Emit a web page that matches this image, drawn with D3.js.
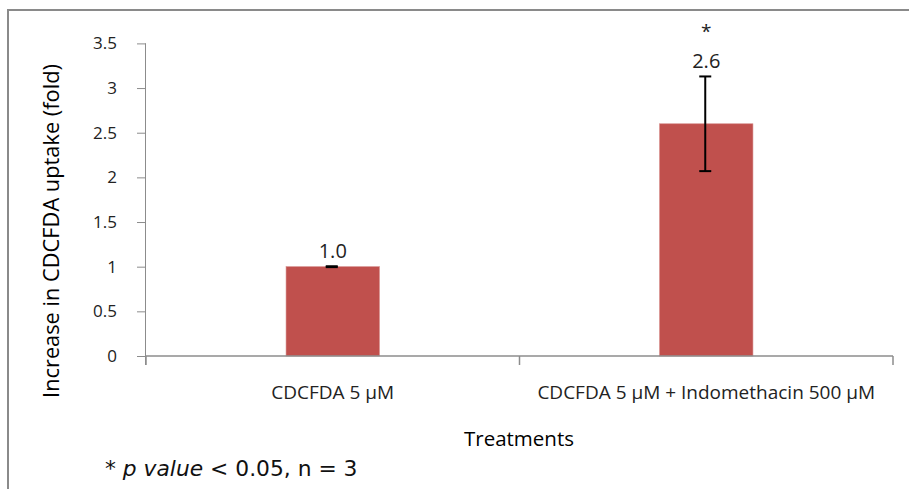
<!DOCTYPE html>
<html><head><meta charset="utf-8">
<script src="https://cdn.jsdelivr.net/npm/d3@7"></script>
<style>body{margin:0;background:#fff}svg{display:block}</style>
</head><body>
<script>
const categories = ["CDCFDA 5 μM", "CDCFDA 5 μM + Indomethacin 500 μM"];
const values = [1.0, 2.6];
const errors = [0.005, 0.53];
const valueLabels = ["1.0", "2.6"];
const signif = ["", "*"];
const yTicks = [0, 0.5, 1, 1.5, 2, 2.5, 3, 3.5];

const W = 909, H = 489;
const svg = d3.select("body").append("svg").attr("width", W).attr("height", H);
const font = "'Open Sans', 'Noto Sans', sans-serif";

// frame
svg.append("path").attr("d", `M8,489 L8,10 L909,10`).attr("fill", "none").attr("stroke", "#8a8a8a").attr("stroke-width", 2);

const x0 = 146, x1 = 893, y0 = 356, yTop = 43.4;
const x = d3.scaleBand().domain(categories).range([x0, x1]).paddingInner(0.75).paddingOuter(0.375);
const y = d3.scaleLinear().domain([0, 3.5]).range([y0, yTop]);
const axisColor = "#8c8c8c";

// y axis
const ya = svg.append("g").attr("transform", `translate(${x0},0)`)
  .call(d3.axisLeft(y).tickValues(yTicks).tickSize(9).tickPadding(20).tickFormat(d => String(d)));
ya.select(".domain").attr("stroke", axisColor).attr("d", `M-0.5,${y0+9}V${yTop}`);
ya.selectAll(".tick line").attr("stroke", axisColor);
ya.selectAll("text").attr("font-family", font).attr("font-size", 17).attr("fill", "#222");

// bars
svg.selectAll("rect.bar").data(values).enter().append("rect")
  .attr("x", (d, i) => x(categories[i])).attr("width", x.bandwidth())
  .attr("y", d => y(d)).attr("height", d => y0 - y(d))
  .attr("fill", "#C0504D").attr("stroke", "#d58987").attr("stroke-width", 0.6);

// x axis
const xa = svg.append("g").attr("transform", `translate(0,${y0})`);
xa.append("line").attr("x1", x0).attr("x2", x1).attr("y1", 0).attr("y2", 0).attr("stroke", axisColor).attr("stroke-width", 1.5);
const step = (x1 - x0) / categories.length;
[0, 1, 2].forEach(k => xa.append("line").attr("x1", x0 + k*step).attr("x2", x0 + k*step).attr("y1", 0).attr("y2", 9).attr("stroke", axisColor).attr("stroke-width", 1.5));
categories.forEach((c, i) => xa.append("text").attr("x", x(c) + x.bandwidth()/2).attr("y", 43)
  .attr("text-anchor", "middle").attr("font-family", font).attr("font-size", 19).attr("fill", "#222").text(c));

// error bars
values.forEach((v, i) => {
  const cx = x(categories[i]) + x.bandwidth()/2 - 1;
  const g = svg.append("g").attr("stroke", "#000").attr("stroke-width", 2);
  g.append("line").attr("x1", cx).attr("x2", cx).attr("y1", y(v + errors[i])).attr("y2", y(v - errors[i]));
  g.append("line").attr("x1", cx - 6).attr("x2", cx + 6).attr("y1", y(v + errors[i])).attr("y2", y(v + errors[i]));
  g.append("line").attr("x1", cx - 6).attr("x2", cx + 6).attr("y1", y(v - errors[i])).attr("y2", y(v - errors[i]));
  svg.append("text").attr("x", cx + 1).attr("y", y(v + errors[i]) - 8)
    .attr("text-anchor", "middle").attr("font-family", font).attr("font-size", 20).attr("fill", "#222").text(valueLabels[i]);
  if (signif[i]) svg.append("text").attr("x", cx + 1).attr("y", y(v + errors[i]) - 38)
    .attr("text-anchor", "middle").attr("font-family", font).attr("font-size", 19).attr("fill", "#222").text(signif[i]);
});

// axis titles
svg.append("text").attr("transform", `translate(59,231) rotate(-90)`).attr("text-anchor", "middle")
  .attr("font-family", font).attr("font-size", 21.8).attr("font-weight", 500).attr("fill", "#000").text("Increase in CDCFDA uptake (fold)");
svg.append("text").attr("x", 519).attr("y", 446).attr("text-anchor", "middle")
  .attr("font-family", font).attr("font-size", 20.5).attr("font-weight", 500).attr("fill", "#000").text("Treatments");

// footnote
const fn = svg.append("text").attr("x", 105).attr("y", 476).attr("font-family", "'DejaVu Sans', sans-serif").attr("font-size", 21.8).attr("fill", "#111");
fn.append("tspan").text("* ");
fn.append("tspan").attr("font-style", "italic").text("p value");
fn.append("tspan").text(" < 0.05, n = 3");
</script>
</body></html>
